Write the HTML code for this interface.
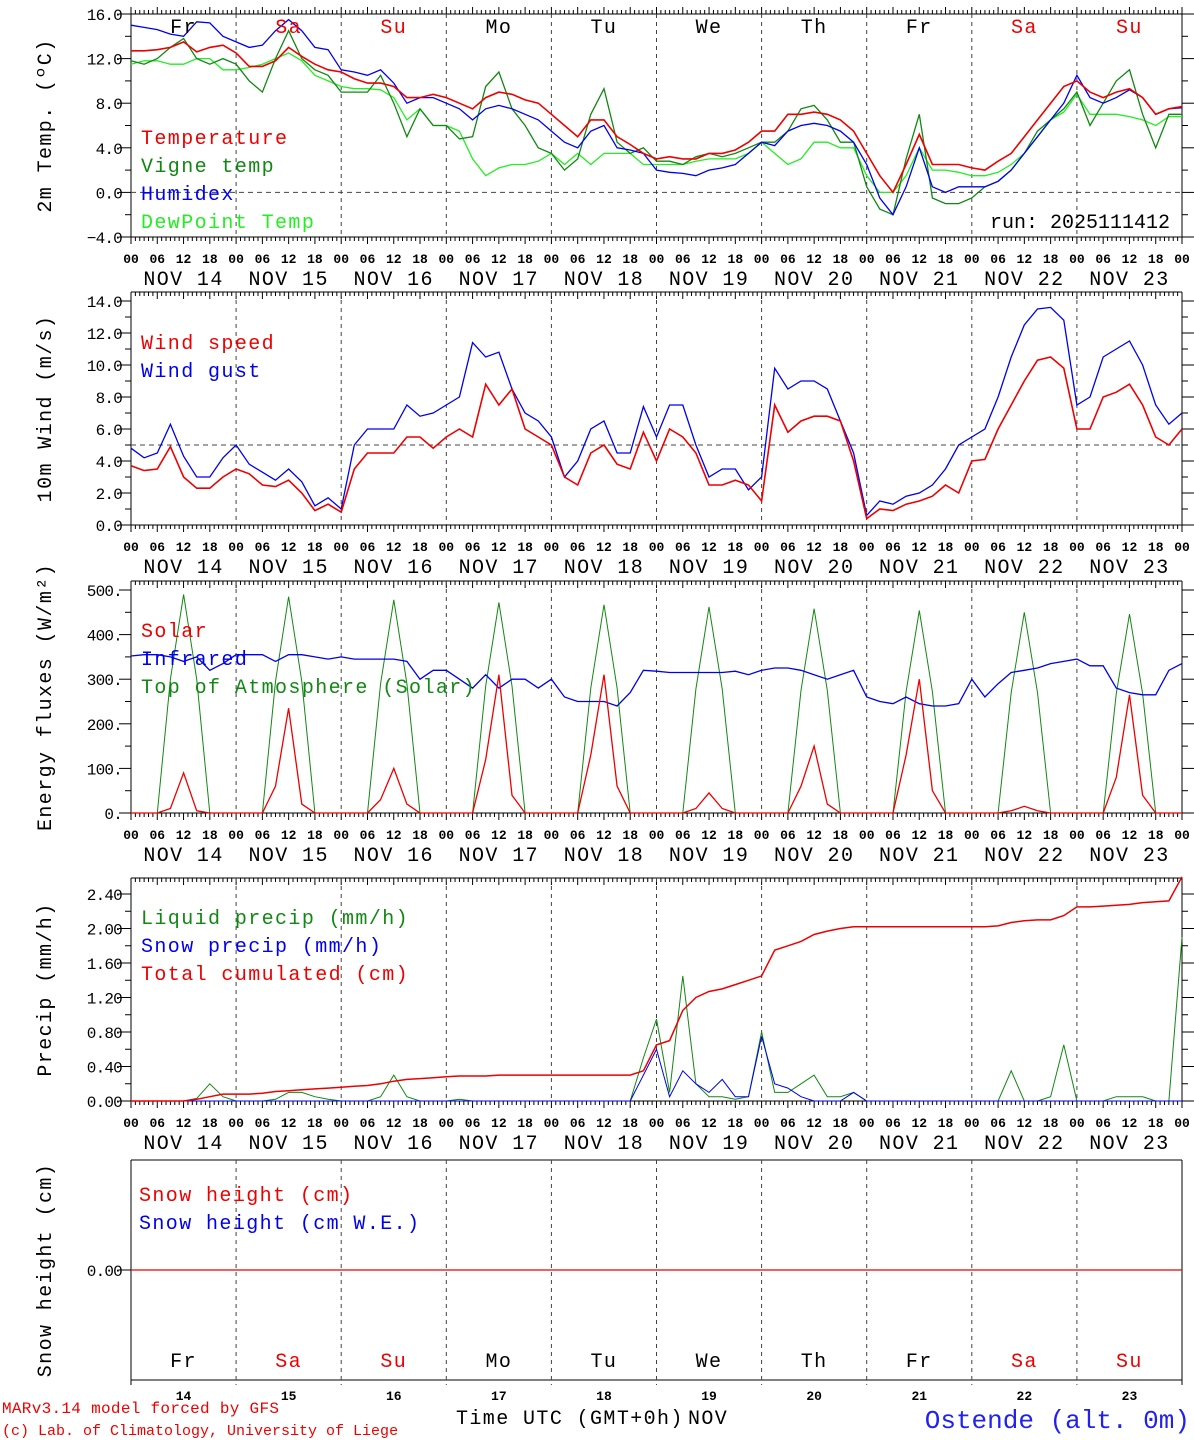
<!DOCTYPE html>
<html><head><meta charset="utf-8"><style>
body{margin:0;background:#fff;}
svg{display:block;font-family:"Liberation Mono",monospace;}
.L{font-size:20px;letter-spacing:1.4px;}
</style></head><body>
<svg id="c" width="1194" height="1440" xmlns="http://www.w3.org/2000/svg"></svg>
<script>
const days=["NOV 14","NOV 15","NOV 16","NOV 17","NOV 18","NOV 19","NOV 20","NOV 21","NOV 22","NOV 23"];
const dayNames=["Fr","Sa","Su","Mo","Tu","We","Th","Fr","Sa","Su"];
const dayNums=["14","15","16","17","18","19","20","21","22","23"];
// 3-hourly series, 81 points from NOV 14 00 to NOV 24 00
const temp=[12.7,12.7,12.8,13.0,13.5,12.6,13.0,13.2, 12.5,11.3,11.3,11.8,13.0,12.2,11.5,11.0, 10.8,10.2,9.8,9.8,9.5,8.5,8.5,8.8, 8.5,8.0,7.5,8.5,9.0,8.8,8.3,8.0, 7.0,6.0,5.0,6.5,6.5,5.0,4.3,3.5, 3.0,3.2,3.0,3.0,3.5,3.5,3.8,4.5, 5.5,5.5,7.0,7.0,7.2,7.0,6.5,5.5, 3.5,1.5,0.0,2.5,5.2,2.5,2.5,2.5, 2.2,2.0,2.8,3.5,5.0,6.5,8.0,9.5, 10.0,9.0,8.5,9.0,9.3,8.5,7.0,7.5,7.7];
const vigne=[11.8,11.5,12.0,13.0,13.8,12.0,11.5,12.0, 11.5,10.0,9.0,12.0,14.5,12.0,11.0,10.5, 9.0,9.0,9.0,10.5,8.0,5.0,7.5,6.0, 6.0,4.8,5.0,9.5,10.8,7.5,6.0,4.0, 3.5,2.0,3.0,7.0,9.3,4.5,3.5,4.0, 2.8,2.8,2.5,3.2,3.5,3.2,3.5,4.0, 4.5,4.5,5.5,7.5,7.8,6.5,4.5,4.5, 0.5,-1.5,-2.0,3.0,7.0,-0.5,-1.0,-1.0, -0.5,0.5,1.0,2.0,3.5,5.5,6.5,7.5, 9.0,6.0,8.0,10.0,11.0,7.0,4.0,7.0,7.0];
const humidex=[15.0,14.8,14.6,14.2,14.0,15.3,15.2,14.0, 13.5,13.0,13.2,14.5,15.5,14.5,13.0,12.8, 11.0,10.8,10.5,11.0,9.8,8.0,8.5,8.5, 8.0,7.5,6.5,7.5,7.8,7.5,7.0,6.5, 5.5,4.5,4.0,5.5,6.0,4.0,3.8,3.5, 2.0,1.8,1.7,1.5,2.0,2.2,2.5,3.5, 4.5,4.2,5.5,6.0,6.2,6.0,5.5,4.5, 2.5,-0.5,-2.0,0.5,4.0,0.5,0.0,0.5, 0.5,0.5,1.0,2.0,3.5,5.0,6.5,8.0, 10.5,8.5,8.0,8.5,9.2,8.5,7.0,7.5,7.6];
const dew=[11.5,11.8,11.8,11.5,11.5,12.0,12.0,11.0, 11.0,11.2,11.5,12.0,12.5,11.8,10.5,10.0, 9.5,9.3,9.3,9.2,8.5,6.5,7.5,6.0, 6.0,5.5,3.0,1.5,2.2,2.5,2.5,2.8, 3.5,2.5,3.5,2.5,3.5,3.5,3.5,2.5, 2.5,2.5,2.5,2.8,3.0,3.0,3.0,3.5, 4.5,3.5,2.5,3.0,4.5,4.5,4.0,4.0, 1.5,0.0,0.0,1.5,4.0,2.0,2.0,1.8, 1.5,1.5,1.8,2.5,3.5,5.0,6.5,7.2, 8.8,7.0,7.0,7.0,6.8,6.5,6.0,6.8,6.8];
const wind=[3.7,3.4,3.5,4.9,3.0,2.3,2.3,3.0, 3.5,3.2,2.5,2.4,2.8,2.0,0.9,1.3, 0.8,3.5,4.5,4.5,4.5,5.5,5.5,4.8, 5.5,6.0,5.5,8.8,7.5,8.5,6.0,5.5, 5.0,3.0,2.5,4.5,5.0,3.8,3.5,5.8, 4.0,6.0,5.5,4.5,2.5,2.5,2.8,2.5, 1.5,7.5,5.8,6.5,6.8,6.8,6.5,4.0, 0.4,1.0,0.9,1.3,1.5,1.8,2.5,2.0, 4.0,4.1,6.0,7.5,9.0,10.3,10.5,9.8, 6.0,6.0,8.0,8.3,8.8,7.5,5.5,5.0,6.0];
const gust=[4.8,4.2,4.5,6.3,4.3,3.0,3.0,4.2, 5.0,3.8,3.3,2.8,3.5,2.7,1.2,1.7, 1.0,5.0,6.0,6.0,6.0,7.5,6.8,7.0, 7.5,8.0,11.4,10.5,10.8,8.5,7.0,6.5, 5.5,3.0,4.0,6.0,6.5,4.5,4.5,7.4, 5.5,7.5,7.5,5.0,3.0,3.5,3.5,2.2, 3.0,9.8,8.5,9.0,9.0,8.5,6.5,4.5, 0.6,1.5,1.3,1.8,2.0,2.5,3.5,5.0, 5.5,6.0,8.0,10.5,12.5,13.5,13.6,12.8, 7.5,8.0,10.5,11.0,11.5,10.0,7.5,6.3,7.0];
const solar=[0,0,0,10,90,5,0,0, 0,0,0,60,235,20,0,0, 0,0,0,30,100,20,0,0, 0,0,0,120,310,40,0,0, 0,0,0,130,310,60,0,0, 0,0,0,10,45,10,0,0, 0,0,0,60,150,20,0,0, 0,0,0,130,300,50,0,0, 0,0,0,5,15,5,0,0, 0,0,0,80,265,40,0,0,0];
const toa=[0,0,0,300,490,300,0,0, 0,0,0,295,485,295,0,0, 0,0,0,290,478,290,0,0, 0,0,0,285,472,285,0,0, 0,0,0,280,467,280,0,0, 0,0,0,278,462,278,0,0, 0,0,0,275,458,275,0,0, 0,0,0,272,454,272,0,0, 0,0,0,270,450,270,0,0, 0,0,0,268,446,268,0,0,0];
const infrared=[352,355,355,350,340,350,320,335, 355,355,355,340,355,355,350,345, 350,345,345,345,345,340,300,320, 320,300,280,310,280,300,300,280, 300,260,250,250,250,240,270,320, 318,315,315,315,315,315,318,310, 320,325,325,320,310,300,310,320, 260,250,245,260,245,240,240,245, 300,260,290,315,320,325,335,340, 345,330,330,280,270,265,265,320,335];
const liquid=[0,0,0,0,0,0.03,0.2,0.05, 0,0,0,0.02,0.1,0.1,0.05,0.02, 0,0,0,0.05,0.3,0.05,0,0, 0,0.02,0,0,0,0,0,0, 0,0,0,0,0,0,0,0.5, 0.95,0.1,1.45,0.2,0.05,0.05,0.02,0.05, 0.8,0.1,0.1,0.2,0.3,0.05,0.05,0.1, 0,0,0,0,0,0,0,0, 0,0,0,0.35,0,0,0.05,0.65, 0,0,0,0.05,0.05,0.05,0,0,1.9];
const snow=[0,0,0,0,0,0,0,0, 0,0,0,0,0,0,0,0, 0,0,0,0,0,0,0,0, 0,0,0,0,0,0,0,0, 0,0,0,0,0,0,0,0.3, 0.6,0.05,0.35,0.2,0.1,0.25,0.05,0.05, 0.75,0.2,0.15,0.05,0,0,0,0.1, 0,0,0,0,0,0,0,0, 0,0,0,0,0,0,0,0, 0,0,0,0,0,0,0,0,0];
const cumul=[0,0,0,0,0,0.02,0.05,0.08, 0.08,0.08,0.09,0.11,0.12,0.13,0.14,0.15, 0.16,0.17,0.18,0.2,0.23,0.25,0.26,0.27, 0.28,0.29,0.29,0.29,0.3,0.3,0.3,0.3, 0.3,0.3,0.3,0.3,0.3,0.3,0.3,0.35, 0.65,0.7,1.05,1.2,1.27,1.3,1.35,1.4, 1.45,1.75,1.8,1.85,1.93,1.97,2.0,2.02, 2.02,2.02,2.02,2.02,2.02,2.02,2.02,2.02, 2.02,2.02,2.03,2.07,2.09,2.1,2.1,2.15, 2.25,2.25,2.26,2.27,2.28,2.3,2.31,2.32,2.6];
const snowH=[0,0,0,0,0,0,0,0,0,0,0];

const S=document.getElementById('c'),NS='http://www.w3.org/2000/svg';
const X0=131,X1=1182;
function xs(h){return X0+(X1-X0)*h/240;}
function el(t,a,p){const e=document.createElementNS(NS,t);for(const k in a)e.setAttribute(k,a[k]);(p||S).appendChild(e);return e;}
function txt(s,x,y,a,p){const e=el('text',Object.assign({x:x,y:y},a),p);e.textContent=s;return e;}

function panel(o){
  const g=el('g',{});
  
  
  const ys=v=>o.yb+(o.yt-o.yb)*(v-o.vmin)/(o.vmax-o.vmin);
  const top=o.frameTop, bot=o.yb;
  el('line',{x1:X0,y1:top,x2:X0,y2:bot,stroke:'#000'},g);
  el('line',{x1:X1,y1:top,x2:X1,y2:bot,stroke:'#000'},g);
  el('line',{x1:X0,y1:top,x2:X1,y2:top,stroke:'#000'},g);
  el('line',{x1:X0,y1:bot,x2:X1,y2:bot,stroke:'#000'},g);
  for(let h=0;h<=240;h++){const x=xs(h);const L=(h%6==0)?7:4;
    el('line',{x1:x,y1:bot,x2:x,y2:bot+L,stroke:'#000'},g);
    el('line',{x1:x,y1:top,x2:x,y2:top+(o.topUp?-L:L),stroke:'#000'},g);}
  for(let d=1;d<10;d++){el('line',{x1:xs(d*24),y1:top,x2:xs(d*24),y2:bot,stroke:'#444','stroke-dasharray':'4,4'},g);}
  const ya=el('g',{},g);
  
  
  for(const t of o.minor){const y=ys(t);el('line',{x1:X0-6,y1:y,x2:X0,y2:y,stroke:'#000'},ya);el('line',{x1:X1,y1:y,x2:X1+6,y2:y,stroke:'#000'},ya);}
  for(const t of o.ticks){const y=ys(t.v);el('line',{x1:X0-12,y1:y,x2:X0,y2:y,stroke:'#000'},ya);el('line',{x1:X1,y1:y,x2:X1+12,y2:y,stroke:'#000'},ya);
    txt(t.l,X0-9,y+6,{'text-anchor':'end','font-size':16,'letter-spacing':-0.8,fill:'#000'},ya);}
  const yt=txt(o.title,0,0,{'class':'L','text-anchor':'middle',transform:`translate(51,${(top+bot)/2}) rotate(-90)`},g);
  
  
  if(o.hline!==undefined){el('line',{x1:X0,y1:ys(o.hline),x2:X1,y2:ys(o.hline),stroke:'#444','stroke-dasharray':'5,4'},g);}
  for(const s of o.series){
    const pts=s.d.map((v,i)=>xs(i*s.step).toFixed(1)+','+ys(v).toFixed(1)).join(' ');
    const p=el('polyline',{points:pts,fill:'none',stroke:s.c,'stroke-width':s.w||1.3},g);
    
    
  }
  o.legend.forEach((L,i)=>{const t=txt(L[0],o.legX||141,o.legY+i*28,{'class':'L',fill:L[1]},g);
    
    });
  if(o.xlabels){
    for(let d=0;d<=10;d++){for(let k=0;k<4;k++){const h=d*24+k*6;if(h>240)break;
      txt(['00','06','12','18'][k],xs(h),bot+26,{'font-size':13,'font-weight':'bold','text-anchor':'middle',fill:'#000'},g);}}
    days.forEach((dd,i)=>{const t=txt(dd,xs(i*24+12),bot+48,{'class':'L','text-anchor':'middle',fill:'#000'},g);
      
      });
  }
  return {g,ys};
}
panel({name:'temperature-panel',yt:14,yb:237,vmin:-4,vmax:16,frameTop:14,topUp:true,title:'2m Temp. (ºC)',
  ticks:[16,12,8,4,0,-4].map(v=>({v:v,l:(v<0?'\u22124.0':v.toFixed(1))})),minor:[14,10,6,2,-2],hline:0,
  series:[{d:dew,c:'#22ee22',n:'dewpoint',step:3},{d:vigne,c:'#118811',n:'vigne-temp',step:3},{d:humidex,c:'#0000ee',n:'humidex',step:3},{d:temp,c:'#ee0000',n:'temperature',step:3,w:1.6}],
  legend:[['Temperature','#ee0000'],['Vigne temp','#118811'],['Humidex','#0000ee'],['DewPoint Temp','#22ee22']],legY:144,xlabels:true});
dayNames.forEach((n,i)=>{const t=txt(n,xs(i*24+12),33,{'class':'L','text-anchor':'middle',fill:(n=='Sa'||n=='Su')?'#ee0000':'#000'});
  
  });
txt('run: 2025111412',1170,228,{'font-size':20,'text-anchor':'end',fill:'#000'});
panel({name:'wind-panel',yt:301,yb:525,vmin:0,vmax:14,frameTop:292,title:'10m Wind (m/s)',
  ticks:[0,2,4,6,8,10,12,14].map(v=>({v:v,l:v.toFixed(1)})),minor:[1,3,5,7,9,11,13],hline:5,
  series:[{d:gust,c:'#0000ee',n:'wind-gust',step:3},{d:wind,c:'#ee0000',n:'wind-speed',step:3,w:1.6}],
  legend:[['Wind speed','#ee0000'],['Wind gust','#0000ee']],legY:349,xlabels:true});
panel({name:'energy-panel',yt:590,yb:813,vmin:0,vmax:500,frameTop:581,title:'Energy fluxes (W/m²)',
  ticks:[0,100,200,300,400,500].map(v=>({v:v,l:v+'.'})),minor:[50,150,250,350,450],
  series:[{d:toa,c:'#118811',n:'toa-solar',step:3,w:1},{d:infrared,c:'#0000ee',n:'infrared',step:3},{d:solar,c:'#ee0000',n:'solar',step:3}],
  legend:[['Solar','#ee0000'],['Infrared','#0000ee'],['Top of Atmosphere (Solar)','#118811']],legY:637,xlabels:true});
panel({name:'precip-panel',yt:894,yb:1101,vmin:0,vmax:2.4,frameTop:878,title:'Precip (mm/h)',
  ticks:[0,0.4,0.8,1.2,1.6,2.0,2.4].map(v=>({v:v,l:v.toFixed(2)})),minor:[0.2,0.6,1.0,1.4,1.8,2.2],
  series:[{d:liquid,c:'#118811',n:'liquid-precip',step:3,w:1},{d:snow,c:'#0000ee',n:'snow-precip',step:3,w:1},{d:cumul,c:'#ee0000',n:'total-cumulated',step:3,w:1.5}],
  legend:[['Liquid precip (mm/h)','#118811'],['Snow precip (mm/h)','#0000ee'],['Total cumulated (cm)','#ee0000']],legY:924,xlabels:true});
(function(){
  const top=1160,bot=1380,y0=1270;
  const g=el('g',{});
  
  
  el('line',{x1:X0,y1:top,x2:X0,y2:bot+5,stroke:'#000'},g);
  el('line',{x1:X1,y1:top,x2:X1,y2:bot+5,stroke:'#000'},g);
  el('line',{x1:X0,y1:top,x2:X1,y2:top,stroke:'#000'},g);
  el('line',{x1:X0,y1:bot,x2:X1,y2:bot,stroke:'#000'},g);
  for(let d=1;d<10;d++)el('line',{x1:xs(d*24),y1:top,x2:xs(d*24),y2:bot+5,stroke:'#444','stroke-dasharray':'4,4'},g);
  el('line',{x1:X0-12,y1:y0,x2:X0,y2:y0,stroke:'#000'},g);
  txt('0.00',X0-9,y0+6,{'text-anchor':'end','font-size':16,'letter-spacing':-0.8},g);
  const pts=snowH.map((v,i)=>xs(i*24).toFixed(1)+','+(y0-v*50).toFixed(1)).join(' ');
  const p=el('polyline',{points:pts,fill:'none',stroke:'#ee0000','stroke-width':1.2},g);
  
  
  txt('Snow height (cm)',0,0,{'class':'L','text-anchor':'middle',transform:`translate(51,${(top+bot)/2}) rotate(-90)`},g);
  txt('Snow height (cm)',139,1201,{'class':'L',fill:'#ee0000'},g);
  txt('Snow height (cm W.E.)',139,1229,{'class':'L',fill:'#0000ee'},g);
  dayNames.forEach((n,i)=>{txt(n,xs(i*24+12),1367,{'class':'L','text-anchor':'middle',fill:(n=='Sa'||n=='Su')?'#ee0000':'#000'},g);
    txt(dayNums[i],xs(i*24+12),1400,{'font-size':13,'font-weight':'bold','text-anchor':'middle'},g);});
})();
txt('MARv3.14 model forced by GFS',2,1413,{'font-size':16,'letter-spacing':0.3,fill:'#ee0000'});
txt('(c) Lab. of Climatology, University of Liege',2,1435,{'font-size':15,fill:'#ee0000'});
txt('Time UTC (GMT+0h)',456,1424,{'class':'L',fill:'#000'});
txt('NOV',688,1424,{'class':'L',fill:'#000'});
const st=txt('Ostende (alt. 0m)',1190,1428,{'font-size':26,'text-anchor':'end',fill:'#2222ee'});


</script>
</body></html>
